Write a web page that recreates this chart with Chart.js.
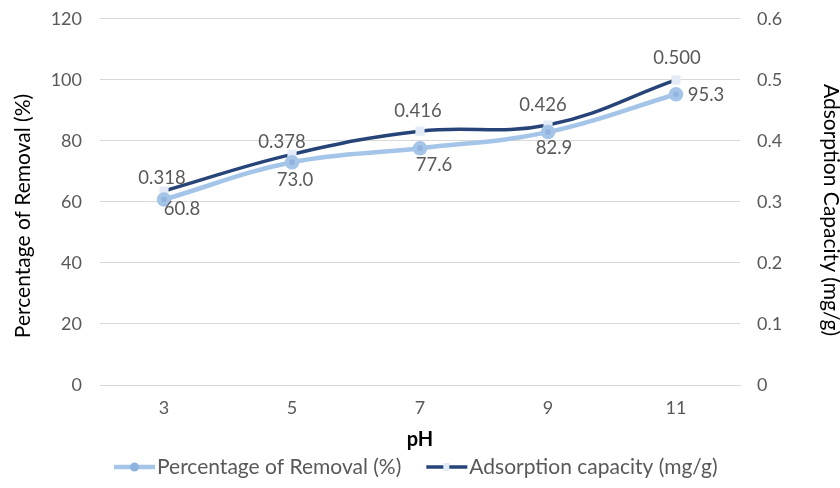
<!DOCTYPE html>
<html>
<head>
<meta charset="utf-8">
<script src="https://cdn.jsdelivr.net/npm/chart.js@4"></script>
<style>
  html, body { margin: 0; padding: 0; background: #fff; }
  #wrap { width: 840px; height: 488px; }
</style>
</head>
<body>
<div id="wrap"><canvas id="phChart" width="840" height="488"></canvas></div>
<script>
// values
const phLabels = ["3", "5", "7", "9", "11"];
const removalPct = [60.8, 73.0, 77.6, 82.9, 95.3];
const adsorptionCap = [0.318, 0.378, 0.416, 0.426, 0.500];
const leftTicks = [0, 20, 40, 60, 80, 100, 120];
const rightTicks = [0, 0.1, 0.2, 0.3, 0.4, 0.5, 0.6];

const FONT = "Lato, 'Open Sans', sans-serif";
const GREY = "#595959";
const lightBlue = "#a4c4e8";
const darkBlue = "#264478";

// label nudges (dx, dy from the point), dragged by hand in the original
const removalNudge = [[18, 10], [3, 18], [14, 17], [6, 16], [30, 1]];
const capNudge = [[-2, -13], [-10, -12], [-2, -20], [-5, -20], [1, -22]];

const labelPlugin = {
  id: "pointLabels",
  afterDatasetsDraw(chart) {
    const ctx = chart.ctx;
    ctx.save();
    ctx.font = "18.5px " + FONT;
    ctx.fillStyle = GREY;
    ctx.textAlign = "center";
    ctx.textBaseline = "middle";
    chart.data.datasets.forEach((ds, di) => {
      const meta = chart.getDatasetMeta(di);
      meta.data.forEach((pt, i) => {
        const n = ds.nudge[i];
        ctx.fillText(ds.data[i].toFixed(ds.decimals), pt.x + n[0], pt.y + n[1]);
      });
    });
    ctx.restore();
  },
  afterDraw(chart) {
    const ctx = chart.ctx;
    ctx.save();
    ctx.font = "21px " + FONT;
    ctx.textBaseline = "middle";
    ctx.textAlign = "center";

    // axis titles, Excel puts them a bit below the plot middle
    ctx.fillStyle = "#000";
    ctx.save();
    ctx.translate(23, 216);
    ctx.rotate(-Math.PI / 2);
    ctx.fillText("Percentage of Removal (%)", 0, 0);
    ctx.restore();
    ctx.save();
    ctx.translate(831, 210);
    ctx.rotate(Math.PI / 2);
    ctx.fillText("Adsorption Capacity (mg/g)", 0, 0);
    ctx.restore();

    // legend: line with marker, then text
    ctx.textAlign = "left";
    const y = 467;
    let x = 114;
    chart.data.datasets.forEach((ds) => {
      ctx.strokeStyle = ds.borderColor;
      ctx.lineWidth = ds.borderWidth;
      ctx.beginPath();
      ctx.moveTo(x, y);
      ctx.lineTo(x + 41, y);
      ctx.stroke();
      ctx.fillStyle = ds.pointBackgroundColor;
      if (ds.pointStyle === "rect") {
        ctx.fillRect(x + 17, y - 4, 6, 8);
      } else {
        ctx.beginPath();
        ctx.arc(x + 20.5, y, 4.5, 0, Math.PI * 2);
        ctx.fill();
      }
      ctx.fillStyle = GREY;
      ctx.fillText(ds.label, x + 43, y);
      x += 43 + ctx.measureText(ds.label).width + 25;
    });
    ctx.restore();
  }
};

new Chart(document.getElementById("phChart"), {
  type: "line",
  data: {
    labels: phLabels,
    datasets: [
      {
        label: "Percentage of Removal (%)",
        data: removalPct,
        yAxisID: "y",
        borderColor: lightBlue,
        backgroundColor: lightBlue,
        pointBackgroundColor: "#8fb3de",
        pointBorderColor: lightBlue,
        borderWidth: 4.5,
        pointRadius: 5,
        pointStyle: "circle",
        tension: 0.4,
        decimals: 1,
        nudge: removalNudge
      },
      {
        label: "Adsorption capacity (mg/g)",
        data: adsorptionCap,
        yAxisID: "y1",
        borderColor: darkBlue,
        backgroundColor: darkBlue,
        pointBackgroundColor: "#e3ebf6",
        pointBorderColor: "#e3ebf6",
        borderWidth: 3.5,
        pointRadius: 4,
        pointStyle: "rect",
        tension: 0.4,
        decimals: 3,
        nudge: capNudge
      }
    ]
  },
  options: {
    responsive: false,
    animation: false,
    layout: { padding: { top: 0, bottom: 33, left: 0, right: 0 } },
    plugins: { legend: { display: false }, tooltip: { enabled: false } },
    scales: {
      x: {
        offset: true,
        grid: { display: false, drawTicks: false },
        border: { color: "#d9d9d9" },
        ticks: { color: GREY, font: { family: FONT, size: 18 }, padding: 12 },
        title: { display: true, text: "pH", color: "#000", font: { family: FONT, size: 20, weight: "bold" }, padding: { top: 4, bottom: 3 } },
        afterFit(s) { s.height = 70; }
      },
      y: {
        position: "left",
        min: 0, max: 120,
        afterBuildTicks(s) { s.ticks = leftTicks.map(v => ({ value: v })); },
        grid: { color: "#d9d9d9", drawTicks: false },
        border: { display: false },
        ticks: { color: GREY, font: { family: FONT, size: 18, lineHeight: 0.1 }, padding: 18 },
        afterFit(s) { s.width = 100; }
      },
      y1: {
        position: "right",
        min: 0, max: 0.6,
        afterBuildTicks(s) { s.ticks = rightTicks.map(v => ({ value: v })); },
        grid: { display: false, drawTicks: false },
        border: { display: false },
        ticks: { color: GREY, font: { family: FONT, size: 18, lineHeight: 0.1 }, padding: 17, callback: v => String(v) },
        afterFit(s) { s.width = 100; }
      }
    }
  },
  plugins: [labelPlugin]
});
</script>
</body>
</html>
